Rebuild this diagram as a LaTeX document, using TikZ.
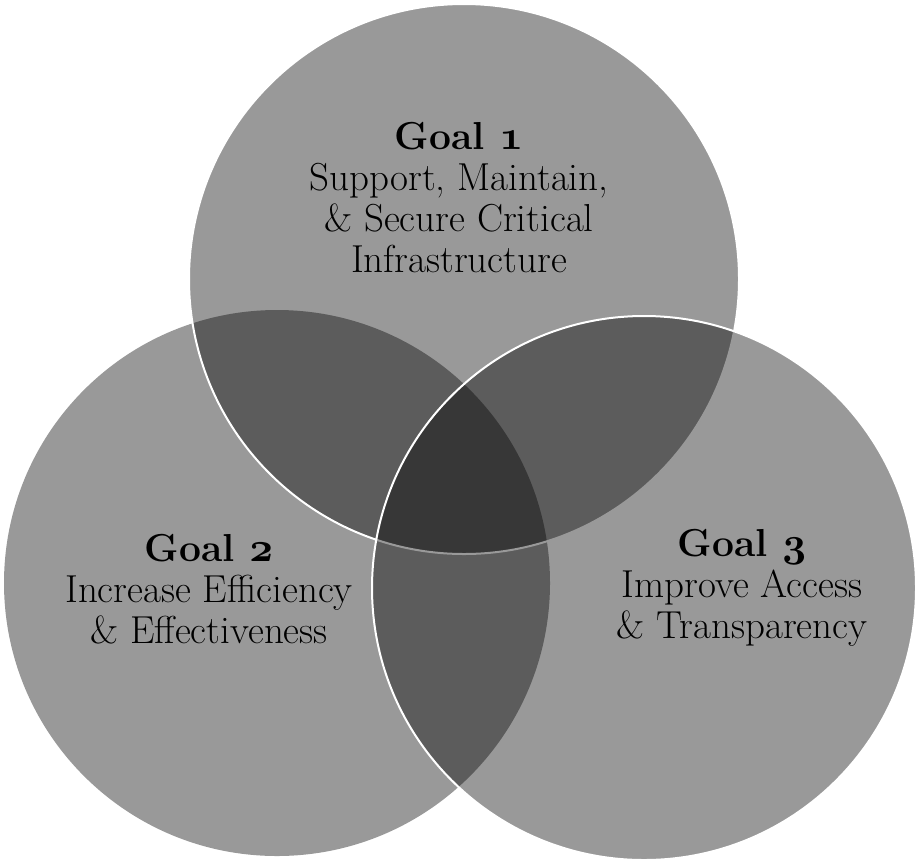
\documentclass[tikz,border=0pt]{standalone}
\newcommand{\goalnum}[1]{{\usefont{OML}{cmm}{b}{it}#1}}
\tikzset{
	goalcircle/.style={fill=black,fill opacity=0.4,draw=white,line width=1pt},
	goaltext/.style={align=center,inner sep=0pt,font=\fontsize{19.5}{20.5}\selectfont}
}
\begin{document}
\begin{tikzpicture}[x=0.5pt,y=-0.5pt]
		\useasboundingbox (0,0) rectangle (919,867);
		
		\fill[black,fill opacity=0.4] (277,583) circle[radius=136.5pt];
		\filldraw[goalcircle] (464,279) circle[radius=137.5pt];
		\filldraw[goalcircle] (644,588) circle[radius=136pt];
		
		\node[goaltext] (goal1) at (459,198) {\textbf{Goal \goalnum{1}}\\Support, Maintain,\\\& Secure Critical\\Infrastructure};
		\node[goaltext] (goal2) at (209,589) {\textbf{Goal \goalnum{2}}\\Increase Efficiency\\\& Effectiveness};
		\node[goaltext] (goal3) at (742,588) {\textbf{Goal \goalnum{3}}\\Improve Access\\\& Transparency};
	\end{tikzpicture}
\end{document}
